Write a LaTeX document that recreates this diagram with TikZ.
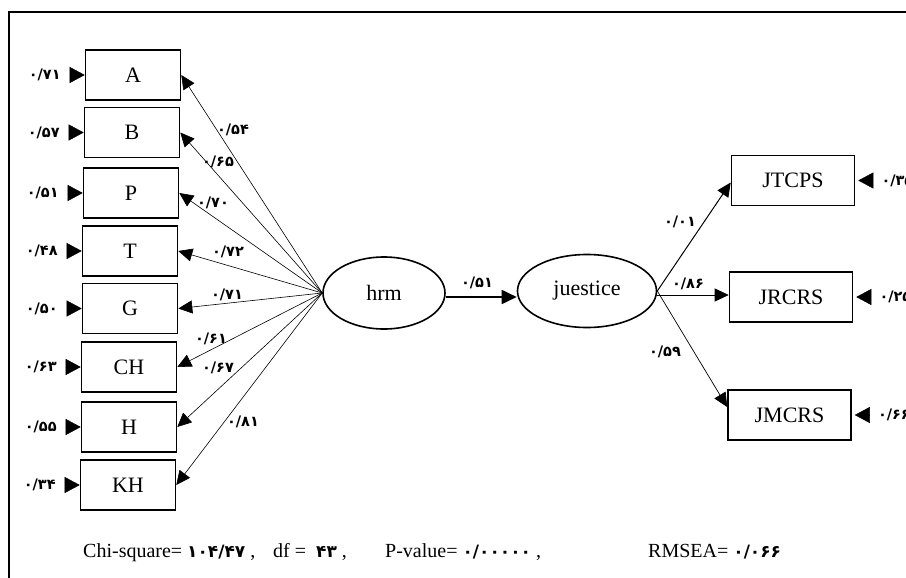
\documentclass[tikz,border=0pt]{standalone}
\usepackage{fontspec}
\setmainfont{Liberation Serif}
\newfontfamily\fa{DejaVu Sans}
\newcommand\pnumfont{\fa\bfseries\fontsize{17}{20}\selectfont}
\usetikzlibrary{arrows.meta,shapes.geometric}
\begin{document}
\begin{tikzpicture}[x=1pt,y=-1pt,
  obs/.style={draw,line width=1.6pt,minimum width=95pt,minimum height=50pt,inner sep=0pt,font=\fontsize{22}{25}\selectfont},
  robs/.style={obs,minimum width=123pt},
  lat/.style={draw,ellipse,line width=1.6pt,inner sep=0pt,font=\fontsize{22}{25}\selectfont},
  num/.style={inner sep=0pt,font=\fa\bfseries\fontsize{14.5}{17}\selectfont},
  load/.style={line width=0.6pt,-{Triangle[length=14pt,width=13pt]}},
  errarr/.style={-{Triangle[length=15pt,width=16pt]}},
  stat/.style={anchor=base west,inner sep=0pt,font=\fontsize{20}{24}\selectfont}]
\useasboundingbox (0,0) rectangle (906,578);
\clip (0,0) rectangle (906,578);
\fill[white] (0,0) rectangle (906,578);
\draw[line width=1.8pt] (9,12) rectangle (1000,700);

% left observed variables
\node[obs] (A)  at (133,75)  {A};
\node[obs] (B)  at (132,132.5) {B};
\node[obs] (P)  at (131,193) {P};
\node[obs] (T)  at (130,251) {T};
\node[obs] (G)  at (130,308.5) {G};
\node[obs] (CH) at (129,367) {CH};
\node[obs] (H)  at (129,427) {H};
\node[obs] (KH) at (128,485) {KH};

% latent variables
\node[lat,minimum width=122pt,minimum height=72pt] (hrm) at (384,293) {hrm};
\node[lat,minimum width=139pt,minimum height=73pt] (jus) at (587,291) {juestice};

% right observed variables
\node[robs] (JT) at (793,180.5) {JTCPS};
\node[robs] (JR) at (791,297) {JRCRS};
\node[robs] (JM) at (789.5,415) {JMCRS};

% error terms (left)
\foreach \b/\v in {A/{۰/۷۱},B/{۰/۵۷},P/{۰/۵۱},T/{۰/۴۸},G/{۰/۵۰},CH/{۰/۶۳},H/{۰/۵۵},KH/{۰/۳۴}}{
  \coordinate (e\b) at ([xshift=-15pt]\b.west);
  \draw[errarr] (e\b) -- (\b.west);
  \node[num] (n\b) at ([xshift=-40pt]\b.west) {\v};
}
% error terms (right)
\foreach \b/\v in {JT/{۰/۳۵},JR/{۰/۲۵},JM/{۰/۶۶}}{
  \coordinate (e\b) at ([xshift=16pt]\b.east);
  \draw[errarr] (e\b) -- ([xshift=3pt]\b.east);
  \node[num,anchor=west] (n\b) at ([xshift=26pt]\b.east) {\v};
}

% loadings from hrm
\foreach \b in {A,B,P,T,G,CH,H,KH}{
  \draw[load] (hrm.west) -- (\b.east);
}
\node[num] (lA)  at (233,130) {۰/۵۴};
\node[num] (lB)  at (218,162) {۰/۶۵};
\node[num] (lP)  at (213,203) {۰/۷۰};
\node[num] (lT)  at (228,252) {۰/۷۲};
\node[num] (lG)  at (227,295) {۰/۷۱};
\node[num] (lCH) at (211,339) {۰/۶۱};
\node[num] (lH)  at (218,368) {۰/۶۷};
\node[num] (lKH) at (243,422) {۰/۸۱};

% structural path
\draw[line width=1.8pt,-{Triangle[length=15pt,width=14pt]}] ([yshift=-4pt]hrm.east) -- ([yshift=-6pt]jus.west);
\node[num] (lhj) at (477,283) {۰/۵۱};

% loadings on justice
\draw[line width=1pt,-{Triangle[length=14pt,width=13pt]}] (jus.east) -- ([yshift=-2pt]JT.west);
\draw[line width=0.7pt,-{Triangle[length=14pt,width=13pt]}] ([yshift=-4pt]jus.east) -- ([yshift=2pt]JR.west);
\draw[line width=0.7pt,-{Triangle[length=14pt,width=13pt]}] (jus.east) -- ([yshift=8pt]JM.west);
\node[num] (lJT) at (680,222) {۰/۰۱};
\node[num] (lJR) at (688,284) {۰/۸۶};
\node[num] (lJM) at (665,352) {۰/۵۹};

% fit statistics
\node[stat] (s1) at (83,557) {Chi-square= {\pnumfont ۱۰۴/۴۷} ,};
\node[stat] (s2) at (273,557) {df = \ {\pnumfont ۴۳} ,};
\node[stat] (s3) at (385,557) {P-value= {\pnumfont ۰/۰۰۰۰۰} ,};
\node[stat] (s4) at (648,557) {RMSEA= {\pnumfont ۰/۰۶۶}};
\end{tikzpicture}
\end{document}
